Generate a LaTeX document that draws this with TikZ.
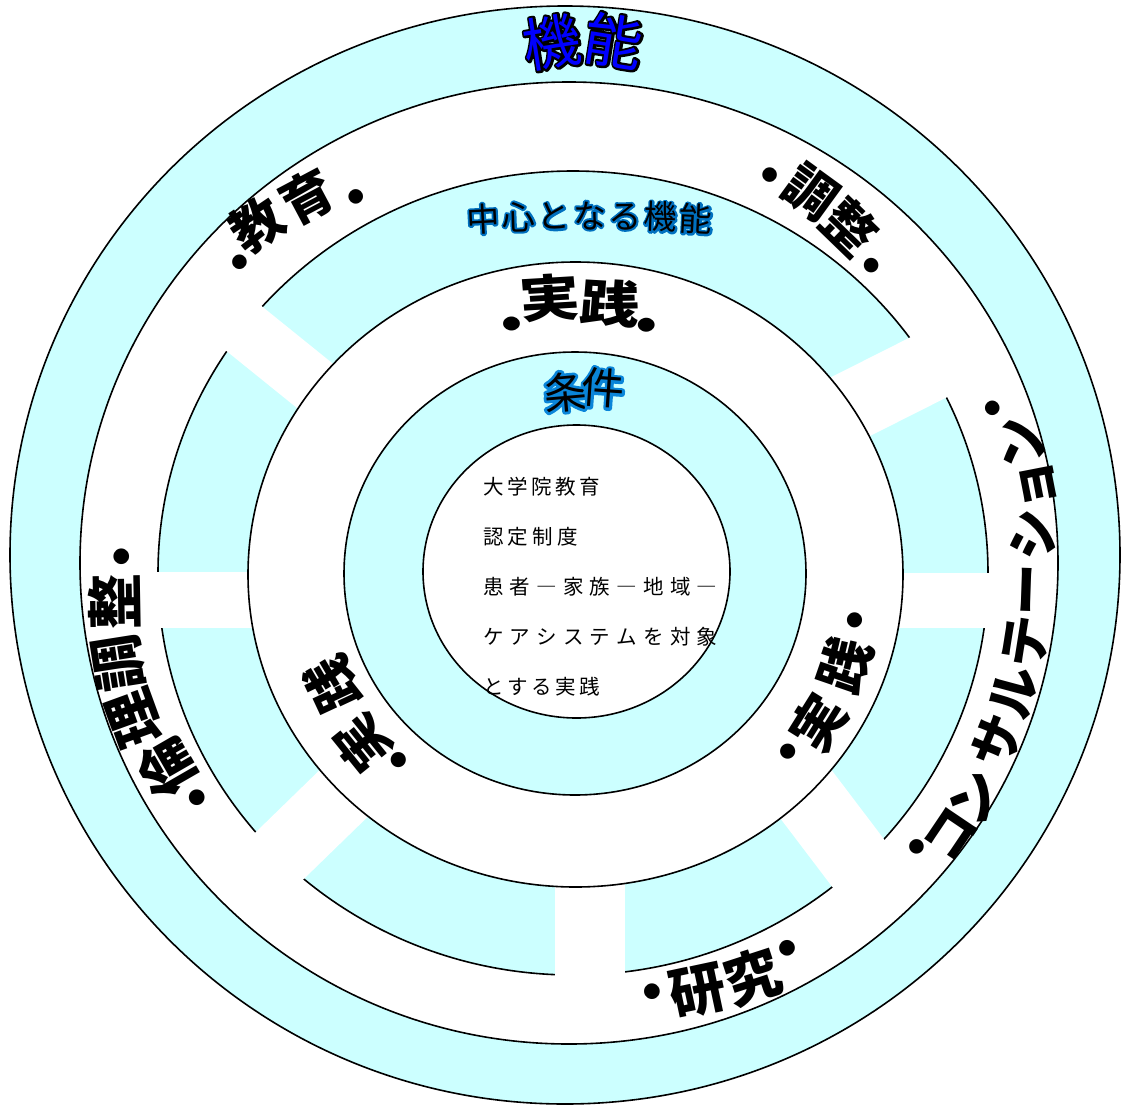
\documentclass[tikz,border=0pt]{standalone}
\usepackage{fontspec}
\newfontfamily\cjk{Noto Sans CJK JP}
\definecolor{ringcyan}{HTML}{CCFFFF}
\definecolor{glowblue}{HTML}{0070C0}
\definecolor{lightglow}{HTML}{0A84D8}
\definecolor{wordblue}{HTML}{0000FF}
\makeatletter
\newcommand\spacedtext[2]{\@tfor\next:=#2\do{\next\hspace{#1}}}
\makeatother
% halo colour, halo rgb, halo width (bp), fill colour, text
\newcommand\halo[5]{%
  \rlap{\color{#1}\special{pdf:literal direct 2 Tr #2 RG #3 w 1 j}#5\special{pdf:literal direct 0 Tr}}%
  {\color{#4}#5}}
\tikzset{
  ring/.style={draw=black, line width=1.6pt},
  cyanring/.style={ring, fill=ringcyan},
  whitering/.style={ring, fill=white},
  gapbar/.style={draw=white, line cap=butt},
  ch/.style={inner sep=0pt, font=\cjk\bfseries\fontsize{#1}{#1}\selectfont,
    execute at begin node={\rule[-0.12em]{0pt}{1em}}},
  chr/.style={inner sep=0pt, font=\cjk\fontsize{#1}{#1}\selectfont,
    execute at begin node={\rule[-0.12em]{0pt}{1em}}},
  inline/.style={inner sep=0pt, anchor=west, font=\cjk\fontsize{20.5}{20.5}\selectfont,
    execute at begin node={\rule[-0.12em]{0pt}{1em}}},
}
\begin{document}
\begin{tikzpicture}[x=1pt, y=-1pt]
\fill[white] (0,0) rectangle (1130,1106);
\useasboundingbox (0,0) rectangle (1130,1106);
% rings
\draw[cyanring] (565,555) ellipse [x radius=555pt, y radius=549pt];
\draw[whitering] (569,563) ellipse [x radius=489pt, y radius=481pt];
\draw[cyanring] (573,573) ellipse [x radius=415pt, y radius=402pt];
% white gaps in the cyan ring
\coordinate (g1a) at (226,314); \coordinate (g1b) at (361,423);
\coordinate (g2a) at (140,600); \coordinate (g2b) at (300,600);
\coordinate (g3a) at (1005,600.5); \coordinate (g3b) at (850,600.5);
\coordinate (g4a) at (590,995); \coordinate (g4b) at (590,850);
\coordinate (g5a) at (267,868); \coordinate (g5b) at (376,762);
\coordinate (g6a) at (871,880); \coordinate (g6b) at (780,760);
\coordinate (g7a) at (945,359); \coordinate (g7b) at (810,427);
\draw[gapbar, line width=57pt] (g1a) -- (g1b);
\draw[gapbar, line width=56pt] (g2a) -- (g2b);
\draw[gapbar, line width=55pt] (g3a) -- (g3b);
\draw[gapbar, line width=70pt] (g4a) -- (g4b);
\draw[gapbar, line width=67pt] (g5a) -- (g5b);
\draw[gapbar, line width=70pt] (g6a) -- (g6b);
\draw[gapbar, line width=70pt] (g7a) -- (g7b);
\draw[whitering] (575.5,574.5) ellipse [x radius=327.5pt, y radius=312.5pt];
\draw[cyanring] (575,573.5) ellipse [x radius=231pt, y radius=221.5pt];
\draw[whitering] (576.5,571.5) ellipse [x radius=153.5pt, y radius=146.5pt];
% title
\foreach \t/\x/\y/\r [count=\i] in {機/552/42/9, 能/614/41/-9}
  \node[chr=58, rotate=\r] (kino\i) at (\x,\y) {\halo{black}{0 0 0}{4.5}{wordblue}{\t}};
% central functions
\foreach \t/\x/\y/\r [count=\i] in {中/483/219/3, 心/518.5/217/2, と/554/216/1, な/589.5/215.5/0, る/625/216/-1, 機/660.5/217/-2, 能/696/219/-3}
  \node[chr=33, rotate=\r] (cf\i) at (\x,\y) {\halo{glowblue}{0 0.44 0.75}{3.8}{black}{\t}};
% conditions
\foreach \t/\x/\y/\r [count=\i] in {条/565/392/5, 件/603/388/-4}
  \node[chr=43, rotate=\r] (jk\i) at (\x,\y) {\halo{lightglow}{0.04 0.52 0.85}{5.5}{black}{\t}};
% education
\foreach \t/\x/\y/\r [count=\i] in {・/240/262/36, 教/257/225/34, 育/307.5/197/28, ・/356/197/24}
  \node[ch=52, rotate=\r] (edu\i) at (\x,\y) {\t};
% coordination
\foreach \t/\x/\y/\r [count=\i] in {・/770/175/-33, 調/811/192/-36, 整/850/227/-44, ・/872/266/-48}
  \node[ch=52, rotate=\r] (coo\i) at (\x,\y) {\t};
% practice top
\foreach \t/\x/\y/\r [count=\i] in {・/512/324/6, 実/550/298/4, 践/610/303/-4, ・/647/325/-6}
  \node[ch=50, xscale=1.2, rotate=\r] (prt\i) at (\x,\y) {\t};
% research
\foreach \t/\x/\y/\r [count=\i] in {・/652/992/10, 研/697/990/12, 究/753/977/18, ・/787/948/22}
  \node[ch=56, rotate=\r] (res\i) at (\x,\y) {\t};
% ethics
\foreach \t/\x/\y/\r [count=\i] in {・/197/798/130, 倫/167/768/120, 理/134/718/110, 調/118/663/99, 整/115/602/91, ・/122/557/85}
  \node[ch=56, rotate=\r] (eth\i) at (\x,\y) {\t};
% consultation
\foreach \t/\x/\y/\r [count=\i] in {・/917/847/52, コ/950/834/56, ン/975/797/61, サ/997/741/68, ル/1013/692/75, テ/1025/642/81, ー/1027/590/88, シ/1032/534/95, ョ/1032/486/101, ン/1020/442/106, ・/993/408/111}
  \node[ch=52, rotate=\r] (con\i) at (\x,\y) {\t};
% practice lower right
\foreach \t/\x/\y/\r [count=\i] in {・/788/752/50, 実/818/723/58, 践/845/665/71, ・/855/620/80}
  \node[ch=54, rotate=\r] (prr\i) at (\x,\y) {\t};
% practice lower left
\foreach \t/\x/\y/\r [count=\i] in {・/399/760/137, 実/363/743/129, 践/332/685/115}
  \node[ch=54, rotate=\r] (prl\i) at (\x,\y) {\t};
% inner text
\node[inline] (l1) at (483,487) {\spacedtext{3.6pt}{大学院教育}};
\node[inline] (l2) at (483,537) {\spacedtext{4.2pt}{認定制度}};
\node[inline] (l3) at (483,587) {\spacedtext{6.2pt}{患者―家族―地域―}};
\node[inline] (l4) at (483,637) {\spacedtext{6.2pt}{ケアシステムを対象}};
\node[inline] (l5) at (483,687) {\spacedtext{3.6pt}{とする実践}};
\end{tikzpicture}
\end{document}
